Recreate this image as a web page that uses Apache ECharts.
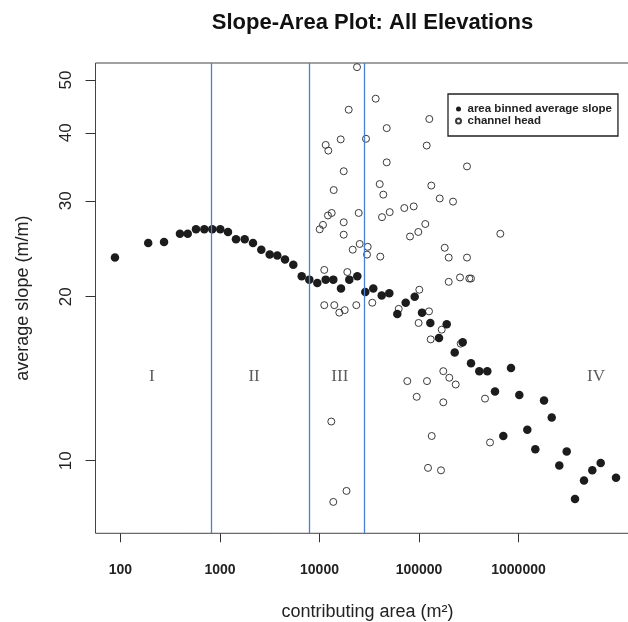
<!DOCTYPE html>
<html>
<head>
<meta charset="utf-8">
<script src="https://cdn.jsdelivr.net/npm/echarts@6/dist/echarts.min.js"></script>
<style>
  html, body { margin: 0; padding: 0; background: #fff; }
  #chart { width: 628px; height: 622px; }
</style>
</head>
<body>
<div id="chart"></div>
<script>
// Area-binned average slope: contributing area (m²) and slope (m/m)
const binArea = [88, 190, 274, 396, 474, 574, 696, 837, 1007, 1203,
  1448, 1771, 2146, 2601, 3158, 3766, 4501, 5454, 6624, 7899,
  9504, 11540, 13760, 16450, 19930, 23980, 28860, 34730, 42190, 50290,
  60520, 73500, 90540, 107200, 129900, 158900, 189900, 228500, 274900, 333100,
  403600, 485800, 580400, 703700, 840600, 1019000, 1226000, 1475000, 1805000, 2157000,
  2571000, 3051000, 3697000, 4552000, 5516000, 6701000, 9548000];
const binSlope = [23.6, 25.1, 25.2, 26.1, 26.1, 26.6, 26.6, 26.6, 26.6, 26.3,
  25.5, 25.5, 25.1, 24.4, 23.9, 23.8, 23.4, 22.9, 21.8, 21.5,
  21.2, 21.5, 21.5, 20.7, 21.5, 21.8, 20.4, 20.7, 20.1, 20.3,
  18.6, 19.5, 20.0, 18.7, 17.9, 16.8, 17.8, 15.8, 16.5, 15.1,
  14.6, 14.6, 13.4, 11.1, 14.8, 13.2, 11.4, 10.5, 12.9, 12.0,
  9.8, 10.4, 8.5, 9.2, 9.6, 9.9, 9.3];

// Channel heads: contributing area (m²) and local slope (m/m)
const headArea = [23820, 36710, 19660, 126900, 47370, 16340, 29340, 11540, 12260, 119500,
  47370, 303700, 17510, 40270, 43770, 13890, 132900, 161500, 219700, 24770,
  12170, 13260, 50760, 42480, 71180, 88440, 10050, 10840, 17510, 17510,
  115700, 81200, 98400, 25350, 21570, 30510, 30020, 40830, 181300, 198900,
  303700, 656500, 11170, 19030, 198900, 258300, 320200, 333100, 11170, 14080,
  15810, 17920, 23430, 33940, 100700, 62520, 126000, 99080, 169100, 131100,
  262500, 175400, 201600, 233800, 76280, 120300, 175400, 460600, 517200, 166400,
  94820, 13140, 134200, 123200, 18680, 13760];
const headSlope = [52.8, 46.2, 44.1, 42.4, 40.8, 38.9, 39.0, 38.0, 37.1, 37.9,
  35.3, 34.7, 34.0, 32.2, 30.8, 31.4, 32.0, 30.3, 29.9, 28.5,
  28.2, 28.5, 28.6, 28.0, 29.1, 29.3, 26.6, 27.1, 27.4, 26.0,
  27.2, 25.8, 26.3, 25.0, 24.4, 24.7, 23.9, 23.7, 24.6, 23.6,
  23.6, 26.1, 22.4, 22.2, 21.3, 21.7, 21.6, 21.6, 19.3, 19.3,
  18.7, 18.9, 19.3, 19.5, 20.6, 19.0, 18.8, 17.9, 17.4, 16.7,
  16.4, 14.6, 14.2, 13.8, 14.0, 14.0, 12.8, 13.0, 10.8, 9.6,
  13.1, 11.8, 11.1, 9.7, 8.8, 8.4];

// Process-domain boundaries (contributing area, m²) and domain labels
const boundaryArea = [810, 8000, 28000];
const regionNames = ['I', 'II', 'III', 'IV'];
const regionArea = [207, 2200, 16000, 6000000];
const regionSlope = [14.3, 14.3, 14.3, 14.3];

// Axis ticks and extents
const xTickLabels = [100, 1000, 10000, 100000, 1000000];
const yTickLabels = [10, 20, 30, 40, 50];
const areaRange = [56.1, 16440000];
const slopeRange = [7.356, 53.73];

const lg = Math.log10;
const SANS = '"Liberation Sans", Arial, Helvetica, sans-serif';
const toPoints = (xs, ys) => xs.map((v, i) => [lg(v), lg(ys[i])]);
const powLabel = v => String(Math.round(Math.pow(10, v)));

const chart = echarts.init(document.getElementById('chart'), null, { renderer: 'canvas' });

chart.setOption({
  animation: false,
  backgroundColor: '#fff',
  textStyle: { fontFamily: SANS },
  title: {
    text: 'Slope-Area Plot: All Elevations',
    left: 367.5,
    textAlign: 'center',
    top: 7,
    textStyle: { fontSize: 22, fontWeight: 'bold', color: '#111', fontFamily: SANS }
  },
  legend: {
    data: [
      { name: 'area binned average slope', icon: 'circle' },
      { name: 'channel head', icon: 'circle' }
    ],
    orient: 'vertical',
    left: 448,
    top: 94,
    padding: [9, 6, 9, 7],
    itemGap: 0,
    itemWidth: 8,
    itemHeight: 5,
    selectedMode: false,
    borderColor: '#222',
    borderWidth: 1.3,
    backgroundColor: '#fff',
    textStyle: { fontSize: 11.5, fontWeight: 'bold', color: '#222', fontFamily: SANS, lineHeight: 12 }
  },
  grid: {
    left: 95.5,
    top: 63,
    width: 544,
    height: 470.3,
    show: true,
    borderColor: '#444',
    borderWidth: 1,
    backgroundColor: 'transparent',
    outerBoundsMode: 'none'
  },
  xAxis: {
    type: 'value',
    min: lg(areaRange[0]),
    max: lg(areaRange[1]),
    axisLine: { show: false },
    splitLine: { show: false },
    axisTick: {
      show: true,
      customValues: xTickLabels.map(lg),
      length: 9,
      lineStyle: { color: '#333', width: 1 }
    },
    axisLabel: {
      customValues: xTickLabels.map(lg),
      formatter: powLabel,
      fontSize: 14,
      fontWeight: 'bold',
      color: '#222',
      margin: 30,
      fontFamily: SANS
    },
    name: 'contributing area (m²)',
    nameLocation: 'middle',
    nameGap: 70,
    nameTextStyle: { fontSize: 18, color: '#222', fontFamily: SANS }
  },
  yAxis: {
    type: 'value',
    min: lg(slopeRange[0]),
    max: lg(slopeRange[1]),
    axisLine: { show: false },
    splitLine: { show: false },
    axisTick: {
      show: true,
      customValues: yTickLabels.map(lg),
      length: 10,
      lineStyle: { color: '#333', width: 1 }
    },
    axisLabel: {
      customValues: yTickLabels.map(lg),
      formatter: powLabel,
      rotate: 90,
      fontSize: 17,
      color: '#222',
      margin: 21,
      fontFamily: SANS
    },
    name: 'average slope (m/m)',
    nameLocation: 'middle',
    nameRotate: 90,
    nameGap: 63,
    nameTextStyle: { fontSize: 18, color: '#222', fontFamily: SANS }
  },
  series: [
    {
      name: 'channel head',
      type: 'scatter',
      data: toPoints(headArea, headSlope),
      symbol: 'circle',
      symbolSize: 7,
      itemStyle: { color: 'rgba(255,255,255,0)', borderColor: '#3a3a3a', borderWidth: 1, opacity: 1 },
      z: 2,
      silent: true
    },
    {
      name: 'area binned average slope',
      type: 'scatter',
      data: toPoints(binArea, binSlope),
      symbol: 'circle',
      symbolSize: 8.5,
      itemStyle: { color: '#1c1c1c', opacity: 1 },
      z: 3,
      silent: true
    },
    {
      name: 'domains',
      type: 'scatter',
      data: regionNames.map((n, i) => ({ name: n, value: [lg(regionArea[i]), lg(regionSlope[i])] })),
      symbolSize: 0,
      silent: true,
      z: 4,
      label: {
        show: true,
        position: 'inside',
        formatter: '{b}',
        fontFamily: '"Liberation Serif", "Times New Roman", serif',
        fontSize: 17,
        color: '#333'
      },
      markLine: {
        silent: true,
        symbol: 'none',
        label: { show: false },
        lineStyle: { color: '#4b7fd6', width: 1.3, type: 'solid' },
        data: boundaryArea.map(a => ({ xAxis: lg(a) }))
      }
    }
  ]
});
</script>
</body>
</html>
